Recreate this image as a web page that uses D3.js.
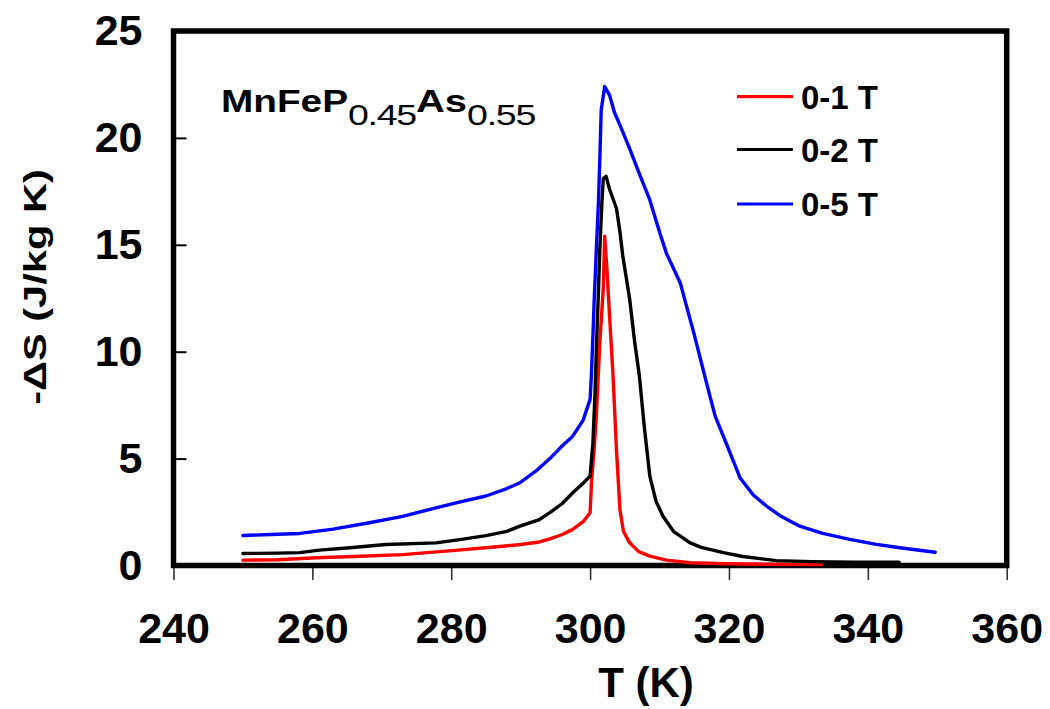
<!DOCTYPE html>
<html>
<head>
<meta charset="utf-8">
<script src="https://cdn.jsdelivr.net/npm/d3@7"></script>
<style>
  html, body { margin: 0; padding: 0; background: #ffffff; }
  svg { display: block; }
  text { font-family: "Liberation Sans", Arial, sans-serif; }
</style>
</head>
<body>
<svg id="chart" width="1050" height="709"></svg>
<script>
// ---- data ----
const seriesNames = ["0-1 T", "0-2 T", "0-5 T"];
const seriesColors = ["#ff0000", "#000000", "#0000ff"];

const tRed = [250, 255, 260.6, 266, 273, 281, 287.4, 290, 292.7, 294.2, 296, 297.5, 299, 300, 300.2, 300.6, 300.9, 301.4, 301.9, 302.1, 302.4, 302.8, 303.3, 303.8, 304.3, 304.8, 305.7, 307, 308.6, 311, 314.4, 319.5, 325, 333.3];
const sRed = [0.25, 0.27, 0.36, 0.42, 0.51, 0.72, 0.9, 0.98, 1.1, 1.25, 1.45, 1.69, 2.05, 2.47, 3.9, 5.5, 7.0, 10.4, 13.0, 15.4, 14.0, 11.7, 8.9, 5.4, 2.6, 1.6, 1.06, 0.65, 0.44, 0.25, 0.13, 0.08, 0.06, 0.04];

const tBlack = [250, 255, 258.2, 261, 265, 270.6, 277.8, 281, 285, 288, 289.9, 292.7, 294.2, 296, 297.5, 299, 300, 300.4, 300.7, 300.9, 301.2, 301.4, 301.7, 301.9, 302.3, 302.8, 303.8, 304.3, 304.7, 305.7, 306.4, 307.1, 307.8, 308.6, 309.5, 310.5, 312, 314.4, 316, 319.2, 322, 326.8, 332, 338, 344.5];
const sBlack = [0.56, 0.58, 0.6, 0.72, 0.82, 0.98, 1.06, 1.2, 1.4, 1.6, 1.84, 2.15, 2.47, 2.9, 3.4, 3.85, 4.18, 5.7, 8.0, 10.1, 12.8, 14.8, 17.0, 18.1, 18.2, 17.6, 16.7, 15.6, 14.5, 12.45, 10.5, 8.86, 6.5, 4.18, 3.0, 2.3, 1.6, 1.06, 0.85, 0.6, 0.42, 0.23, 0.18, 0.16, 0.15];

const tBlue = [250, 254, 258.2, 263, 268.2, 273, 277.8, 281, 285, 288, 289.9, 292.5, 294.2, 296, 297.5, 299, 300, 300.2, 300.4, 300.6, 300.9, 301.2, 301.4, 301.6, 302.1, 302.8, 303.5, 304.3, 305.7, 307, 308.6, 310, 311, 313, 315, 316.8, 318, 319.5, 321.6, 323.5, 325.4, 327.5, 330.2, 333.5, 337.4, 341, 344.6, 349.7];
const sBlue = [1.4, 1.45, 1.5, 1.7, 2.0, 2.3, 2.7, 2.95, 3.25, 3.6, 3.87, 4.5, 5.0, 5.6, 6.05, 6.8, 7.77, 9.0, 10.7, 12.5, 14.8, 17.0, 19.0, 21.3, 22.4, 22.0, 21.2, 20.6, 19.5, 18.4, 17.1, 15.6, 14.6, 13.2, 10.8, 8.5, 7.0, 5.8, 4.1, 3.3, 2.78, 2.3, 1.84, 1.5, 1.22, 1.0, 0.83, 0.62];

const xTicks = [240, 260, 280, 300, 320, 340, 360];
const yTicks = [0, 5, 10, 15, 20, 25];
const xTitle = "T (K)";
const yTitle = "-\u0394S (J/kg K)";

// ---- layout ----
const L = 173.5, R = 1006.7, T = 31, B = 565.5;
const svg = d3.select("#chart");

const x = d3.scaleLinear().domain([240, 360]).range([L, R]);
const y = d3.scaleLinear().domain([0, 25]).range([B, T]);

// x axis (ticks outward, below the frame)
const gx = svg.append("g")
  .attr("transform", `translate(0,${B})`)
  .call(d3.axisBottom(x).tickValues(xTicks).tickFormat(d3.format("d"))
        .tickSizeInner(14.5).tickSizeOuter(0).tickPadding(32));
gx.select(".domain").remove();
gx.selectAll(".tick line").attr("stroke", "#333").attr("stroke-width", 1.6);
gx.selectAll(".tick text")
  .attr("font-size", 43).attr("font-weight", "bold").attr("fill", "#000")
  .attr("font-family", "'Liberation Sans', Arial, sans-serif");

// y axis (ticks inward)
const gy = svg.append("g")
  .attr("transform", `translate(${L},0)`)
  .call(d3.axisLeft(y).tickValues(yTicks).tickFormat(d3.format("d"))
        .tickSizeInner(-13).tickSizeOuter(0).tickPadding(31));
gy.select(".domain").remove();
gy.selectAll(".tick line").attr("stroke", "#000").attr("stroke-width", 2);
gy.selectAll(".tick text")
  .attr("font-size", 43).attr("font-weight", "bold").attr("fill", "#000")
  .attr("font-family", "'Liberation Sans', Arial, sans-serif");

// frame
svg.append("rect")
  .attr("x", L).attr("y", T).attr("width", R - L).attr("height", B - T)
  .attr("fill", "none").attr("stroke", "#000").attr("stroke-width", 5.5);

// series
const series = [
  { name: seriesNames[0], color: seriesColors[0], t: tRed, s: sRed },
  { name: seriesNames[1], color: seriesColors[1], t: tBlack, s: sBlack },
  { name: seriesNames[2], color: seriesColors[2], t: tBlue, s: sBlue }
];
const line = d3.line().x(d => x(d[0])).y(d => y(d[1]));
series.forEach(sr => {
  const pts = sr.t.map((tv, i) => [tv, sr.s[i]]);
  svg.append("path")
    .datum(pts)
    .attr("d", line)
    .attr("fill", "none")
    .attr("stroke", sr.color)
    .attr("stroke-width", 3.4)
    .attr("stroke-linejoin", "round")
    .attr("stroke-linecap", "round");
});

// legend
const legY = [96.7, 149.5, 204];
series.forEach((sr, i) => {
  svg.append("line")
    .attr("x1", 737).attr("x2", 793).attr("y1", legY[i]).attr("y2", legY[i])
    .attr("stroke", sr.color).attr("stroke-width", 3.2);
  svg.append("text")
    .attr("x", 801).attr("y", legY[i] + 12)
    .attr("font-size", 33).attr("font-weight", "bold").attr("fill", "#000")
    .text(sr.name);
});

// compound title
const title = svg.append("text")
  .attr("transform", "translate(221,112) scale(1.25,1)")
  .attr("fill", "#000");
title.append("tspan").attr("font-size", 31).attr("font-weight", "bold").text("MnFeP");
title.append("tspan").attr("font-size", 30).attr("dy", 13).attr("letter-spacing", -1).text("0.45");
title.append("tspan").attr("font-size", 32).attr("font-weight", "bold").attr("dy", -13).text("As");
title.append("tspan").attr("font-size", 30).attr("dy", 13).attr("letter-spacing", -1).text("0.55");

// axis titles
svg.append("text")
  .attr("x", 646).attr("y", 697)
  .attr("text-anchor", "middle")
  .attr("font-size", 42).attr("font-weight", "bold").attr("fill", "#000")
  .text(xTitle);

svg.append("text")
  .attr("transform", "translate(46,287) rotate(-90) scale(1.3,1)")
  .attr("text-anchor", "middle")
  .attr("font-size", 32).attr("font-weight", "bold").attr("fill", "#000")
  .text(yTitle);
</script>
</body>
</html>
